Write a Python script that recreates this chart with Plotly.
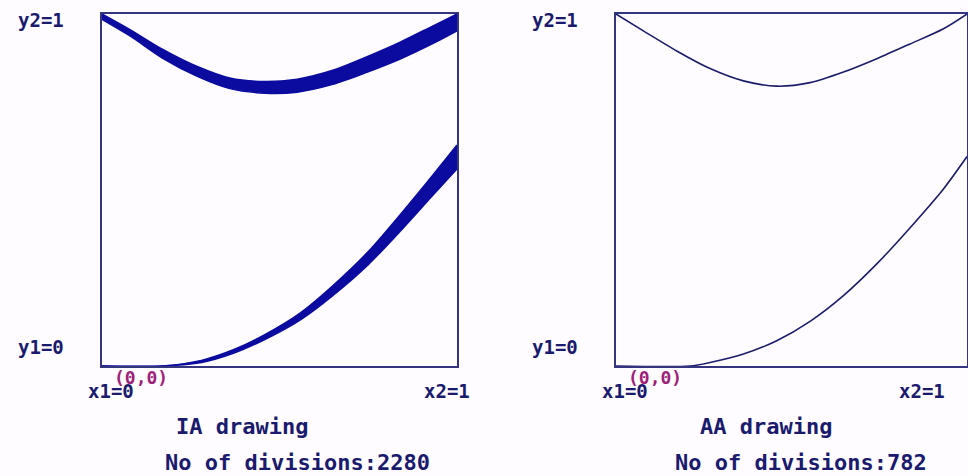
import plotly.graph_objects as go

W, H = 968, 476

# ---- IA drawing (left): thick bands, edges ----
ia_upper_x = [0, 0.08, 0.17, 0.27, 0.36, 0.46, 0.55, 0.65, 0.74, 0.84, 0.93, 1.0]
ia_upper_top = [1.0, 0.955, 0.900, 0.850, 0.818, 0.808, 0.815, 0.840, 0.876, 0.920, 0.965, 1.0]
ia_upper_bot = [0.985, 0.937, 0.875, 0.822, 0.788, 0.775, 0.778, 0.800, 0.832, 0.872, 0.915, 0.952]

ia_lower_x = [0, 0.17, 0.28, 0.37, 0.46, 0.56, 0.65, 0.75, 0.84, 0.93, 1.0]
ia_lower_top = [0, 0.0, 0.016, 0.046, 0.090, 0.152, 0.228, 0.325, 0.430, 0.540, 0.628]
ia_lower_bot = [0, 0.0, 0.010, 0.036, 0.076, 0.132, 0.200, 0.288, 0.383, 0.483, 0.560]

# ---- AA drawing (right): thin curves ----
aa_upper_x = [0, 0.078, 0.173, 0.268, 0.363, 0.458, 0.553, 0.648, 0.743, 0.838, 0.933, 1.0]
aa_upper_y = [1.0, 0.952, 0.895, 0.845, 0.810, 0.795, 0.805, 0.835, 0.873, 0.915, 0.958, 1.0]

aa_lower_x = [0, 0.211, 0.268, 0.363, 0.458, 0.553, 0.648, 0.743, 0.838, 0.933, 1.0]
aa_lower_y = [0, 0.0, 0.010, 0.034, 0.072, 0.127, 0.200, 0.290, 0.393, 0.503, 0.595]

panel_titles = ["IA drawing", "AA drawing"]
divisions = [2280, 782]

BAND = "#0b0ba0"
THIN = "#1c1c6c"
BOX = "#35357f"
TXT = "#1a1a6e"
MAG = "#a0207a"

fig = go.Figure()

band_line = dict(color=BAND, width=1.5, shape="spline", smoothing=0.8)
thin_line = dict(color=THIN, width=1.6, shape="spline", smoothing=0.8)

# left bands
fig.add_trace(go.Scatter(x=ia_upper_x, y=ia_upper_bot, mode="lines", line=band_line,
                         xaxis="x", yaxis="y", hoverinfo="skip"))
fig.add_trace(go.Scatter(x=ia_upper_x, y=ia_upper_top, mode="lines", fill="tonexty",
                         fillcolor=BAND, line=band_line, xaxis="x", yaxis="y", hoverinfo="skip"))
fig.add_trace(go.Scatter(x=ia_lower_x, y=ia_lower_bot, mode="lines", line=band_line,
                         xaxis="x", yaxis="y", hoverinfo="skip"))
fig.add_trace(go.Scatter(x=ia_lower_x, y=ia_lower_top, mode="lines", fill="tonexty",
                         fillcolor=BAND, line=band_line, xaxis="x", yaxis="y", hoverinfo="skip"))

# right thin curves
fig.add_trace(go.Scatter(x=aa_upper_x, y=aa_upper_y, mode="lines", line=thin_line,
                         xaxis="x2", yaxis="y2", hoverinfo="skip"))
fig.add_trace(go.Scatter(x=aa_lower_x, y=aa_lower_y, mode="lines", line=thin_line,
                         xaxis="x2", yaxis="y2", hoverinfo="skip"))

def px(x):
    return x / W

def py(y):
    return 1 - y / H

ax_common = dict(range=[0, 1], showgrid=False, zeroline=False, showticklabels=False,
                 ticks="", showline=True, linecolor=BOX, linewidth=1.5, mirror=True,
                 fixedrange=True)

y_dom = [py(366), py(14)]
fig.update_layout(
    width=W, height=H,
    margin=dict(l=0, r=0, t=0, b=0),
    paper_bgcolor="#fefcfe", plot_bgcolor="#fefcfe",
    showlegend=False,
    xaxis=dict(domain=[px(102), px(457)], anchor="y", **ax_common),
    yaxis=dict(domain=y_dom, anchor="x", **ax_common),
    xaxis2=dict(domain=[px(616), px(967)], anchor="y2", **ax_common),
    yaxis2=dict(domain=y_dom, anchor="x2", **ax_common),
)

font_main = dict(family="DejaVu Sans Mono", size=19, color=TXT, weight="bold")
font_big = dict(family="DejaVu Sans Mono", size=22, color=TXT, weight="bold")
font_mag = dict(family="DejaVu Sans Mono", size=18, color=MAG, weight="bold")

def ann(text, x, y, font):
    fig.add_annotation(text=text, x=px(x), y=py(y), xref="paper", yref="paper",
                       showarrow=False, xanchor="center", yanchor="middle", font=font)

for off, title, ndiv, x2c in [(0, panel_titles[0], divisions[0], 447),
                               (514, panel_titles[1], divisions[1], 922)]:
    ann("y2=1", 41 + off, 20, font_main)
    ann("y1=0", 41 + off, 347, font_main)
    ann("x1=0", 111 + off, 391, font_main)
    ann("(0,0)", 141 + off, 377, font_mag)
    ann("x2=1", x2c, 391, font_main)
    ann(title, 242 + off * 1.02, 426, font_big)
    ann("No of divisions:" + str(ndiv), 297 + off * 0.98, 462, font_big)

fig.write_html("out.html", config={"displayModeBar": False},
               post_script="document.body.style.margin='0';document.body.style.padding='0';")
